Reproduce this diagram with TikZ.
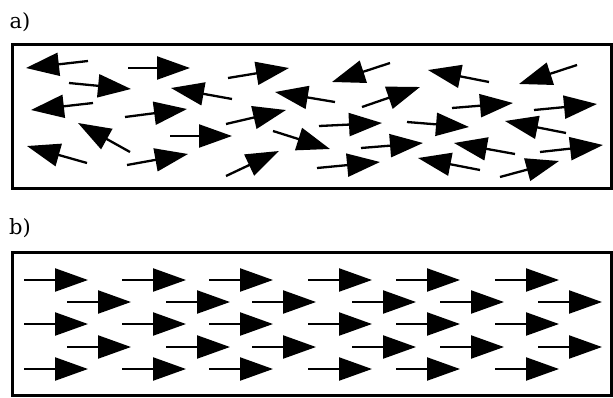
\documentclass[tikz,border=0pt]{standalone}
\usepackage{fontspec}
\newfontfamily\lblfont{DejaVu Serif}
\usetikzlibrary{arrows.meta}
\begin{document}
\begin{tikzpicture}[x=1pt,y=-1pt,
  spin/.style={line width=2.3pt,-{Triangle[length=33pt,width=23pt]}},
  frame/.style={line width=3pt},
  lbl/.style={font=\lblfont\fontsize{21}{24}\selectfont,inner sep=0pt}]
\useasboundingbox (0,0) rectangle (613,397);
\node[lbl] (la) at (20,22) {a)};
\node[lbl] (lb) at (20,228) {b)};
\draw[frame] (12.5,44.5) rectangle (611,188.5);
\draw[frame] (12.5,252) rectangle (611,395);
% panel a
\foreach \ax/\ay/\bx/\by in {
  88/61/26/68, 128/68/190/68, 228/78/289/68, 69/83/131/89,
  232/99/171/88, 93/103/31/110, 125/117/187/109, 226/124/286/110,
  170/136/232/136, 130/152/78/123, 87/163/27/146, 127/165/188/154,
  226/176/279/151, 273/131/330/149, 335/102/275/92,
  390/63/332/82, 489/82/428/70, 577/65/519/84, 362/107/420/87,
  452/108/513/103, 534/110/597/104, 319/126/382/123, 407/122/469/127,
  566/133/505/121, 361/148/423/143, 515/154/454/143, 540/152/603/145,
  317/168/380/162, 480/170/418/158, 500/177/559/161}
  \draw[spin] (\ax,\ay) -- (\bx,\by);
% panel b
\foreach \y in {280,324,369}
  \foreach \x in {24,122,209,308,396,495}
    \draw[spin] (\x,\y) -- (\x+64,\y);
\foreach \y in {302,347}
  \foreach \x in {67,166,252,352,440,538}
    \draw[spin] (\x,\y) -- (\x+64,\y);
\end{tikzpicture}
\end{document}
